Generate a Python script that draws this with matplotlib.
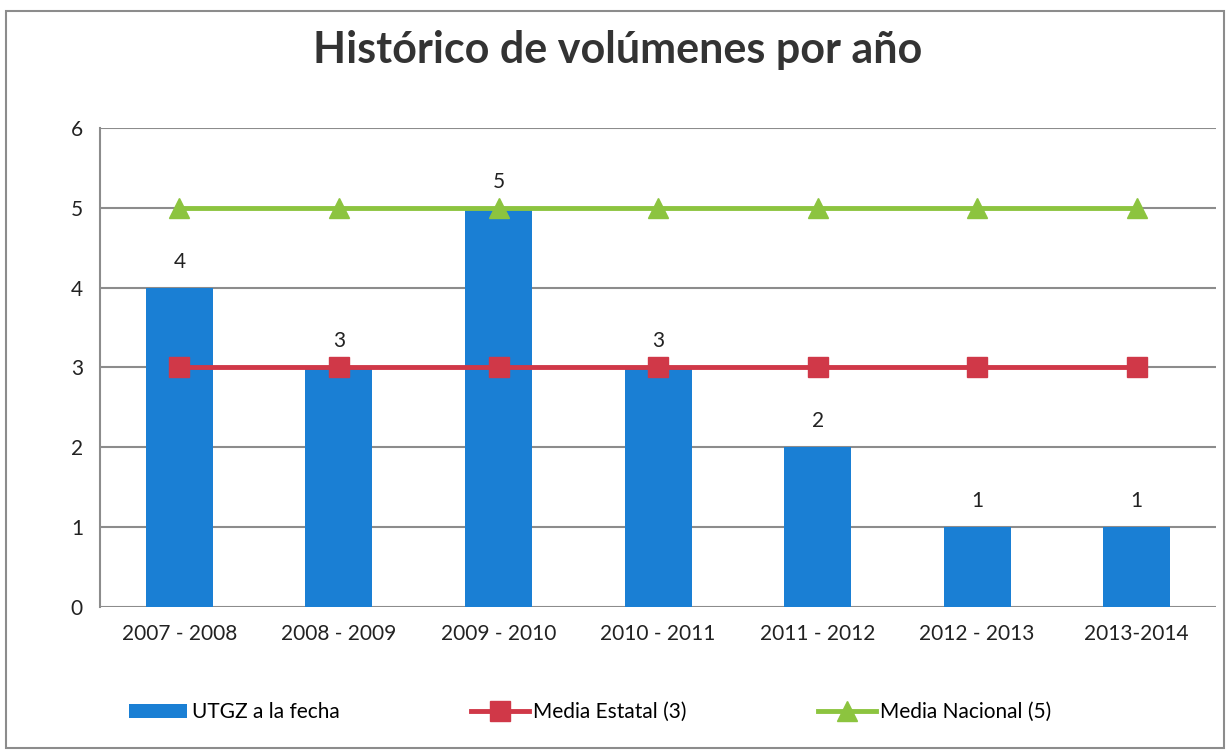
import matplotlib.pyplot as plt
from matplotlib.patches import Rectangle

plt.rcParams['font.family'] = ['Lato', 'DejaVu Sans']

# Datos
periodos = ['2007 - 2008', '2008 - 2009', '2009 - 2010', '2010 - 2011',
            '2011 - 2012', '2012 - 2013', '2013-2014']
utgz = [4, 3, 5, 3, 2, 1, 1]
media_estatal = [3, 3, 3, 3, 3, 3, 3]
media_nacional = [5, 5, 5, 5, 5, 5, 5]

azul = '#1a7fd4'
rojo = '#d03848'
verde = '#8cc43f'

fig = plt.figure(figsize=(12.3, 7.52), dpi=100)
ax = fig.add_axes([0.081, 0.193, 0.908, 0.637])

# Marco exterior
fig.patches.append(Rectangle((0.005, 0.005), 0.99, 0.98, transform=fig.transFigure,
                             fill=False, edgecolor='#8c8c8c', linewidth=1.5))

x = range(len(periodos))
barras = ax.bar(x, utgz, width=0.42, color=azul, label='UTGZ a la fecha', zorder=2)
l_est, = ax.plot(x, media_estatal, color=rojo, linewidth=3.5, marker='s', markersize=14,
                 label='Media Estatal (3)', zorder=3)
l_nac, = ax.plot(x, media_nacional, color=verde, linewidth=3.5, marker='^', markersize=15,
                 label='Media Nacional (5)', zorder=3)

# Etiquetas de datos
for i, v in enumerate(utgz):
    ax.text(i, v + 0.2, str(v), ha='center', va='bottom', fontsize=15, color='#222222')

ax.set_xlim(-0.5, len(periodos) - 0.5)
ax.set_ylim(0, 6)
ax.set_yticks(range(0, 7))
ax.set_xticks(list(x))
ax.set_xticklabels(periodos)
ax.tick_params(axis='both', labelsize=15, length=0, colors='#222222', pad=12)
ax.grid(axis='y', color='#8c8c8c', linewidth=1.5, zorder=0)
for s in ['top', 'right', 'bottom']:
    ax.spines[s].set_visible(False)
ax.spines['left'].set_color('#8c8c8c')
ax.spines['left'].set_linewidth(1.5)

fig.suptitle('Histórico de volúmenes por año', x=0.502, y=0.96,
             fontsize=31, fontweight='bold', color='#333333')

fig.legend(handles=[barras, l_est, l_nac], loc='center', bbox_to_anchor=(0.48, 0.053),
           ncol=3, frameon=False, fontsize=15, columnspacing=6.3, handlelength=2.8,
           handletextpad=0.2)

fig.savefig('out.png', dpi=100)
